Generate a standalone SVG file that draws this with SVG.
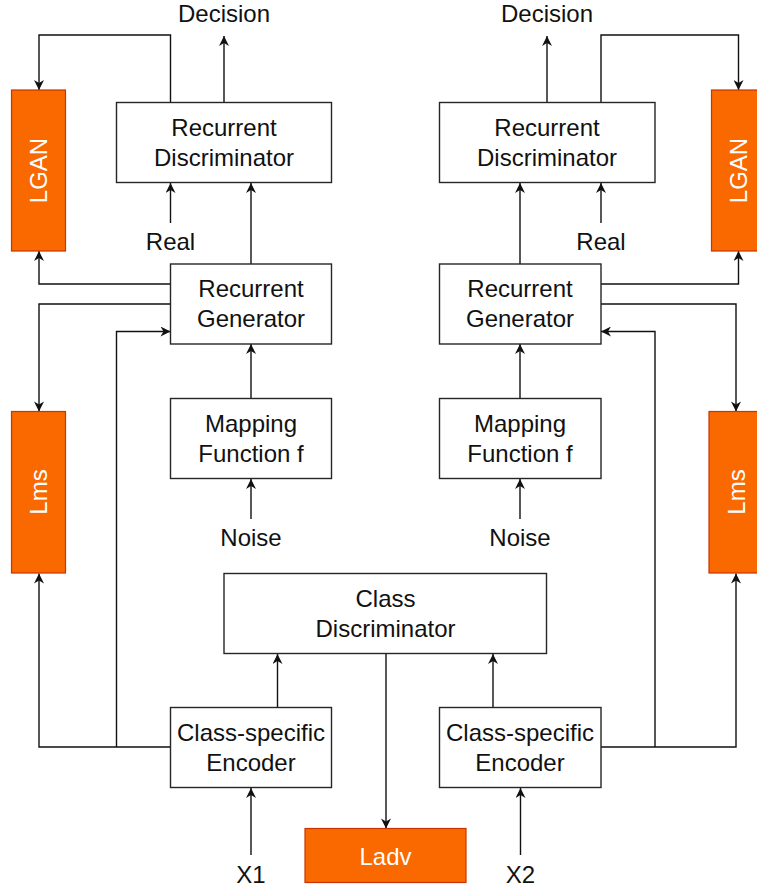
<svg xmlns="http://www.w3.org/2000/svg" width="757" height="890" viewBox="0 0 757 890">
  <style>
    .box { fill: #ffffff; stroke: #262626; stroke-width: 1.4; }
    .loss { fill: #fa6800; stroke: #c73500; stroke-width: 1.2; }
    .lbl { font-family: "Liberation Sans", Arial, sans-serif; font-size: 24px; fill: #111111; text-anchor: middle; }
    .wlbl { font-family: "Liberation Sans", Arial, sans-serif; font-size: 24px; fill: #ffffff; text-anchor: middle; }
    .edge { fill: none; stroke: #111111; stroke-width: 1.4; marker-end: url(#arr); }
  </style>
  <defs>
    <marker id="arr" viewBox="0 0 10 10" refX="10" refY="5" markerWidth="11" markerHeight="10" markerUnits="userSpaceOnUse" orient="auto">
      <path d="M0,0 L10,5 L0,10 L3,5 Z" fill="#111111"/>
    </marker>
  </defs>
  <rect width="757" height="890" fill="#ffffff"/>

  <!-- connectors -->
  <g id="connectors">
    <path class="edge" d="M170.5,102 V35 H39 V90"/>
    <path class="edge" d="M224,102 V36"/>
    <path class="edge" d="M170.5,223 V183"/>
    <path class="edge" d="M251,264 V183"/>
    <path class="edge" d="M170.5,284 H39 V251"/>
    <path class="edge" d="M170.5,304 H39 V411.5"/>
    <path class="edge" d="M170.5,747 H39 V573.5"/>
    <path class="edge" d="M116.5,747 V331.5 H170.5"/>
    <path class="edge" d="M251,398.5 V344"/>
    <path class="edge" d="M251,519 V479"/>
    <path class="edge" d="M277.5,707.5 V654"/>
    <path class="edge" d="M251,855 V788"/>
    <path class="edge" d="M386,654 V828.5"/>

    <path class="edge" d="M601,102 V35 H738.5 V90"/>
    <path class="edge" d="M547,102 V36"/>
    <path class="edge" d="M601,223 V183"/>
    <path class="edge" d="M520,264 V183"/>
    <path class="edge" d="M601,284 H738.5 V251"/>
    <path class="edge" d="M601,304 H736 V411.5"/>
    <path class="edge" d="M601,747 H736 V573.5"/>
    <path class="edge" d="M655,747 V331.5 H601"/>
    <path class="edge" d="M520,398.5 V344"/>
    <path class="edge" d="M520,519 V479"/>
    <path class="edge" d="M493,707.5 V654"/>
    <path class="edge" d="M520.5,855 V788"/>
  </g>

  <!-- free labels -->
  <g id="labels">
    <text class="lbl" x="224" y="22">Decision</text>
    <text class="lbl" x="547" y="22">Decision</text>
    <text class="lbl" x="170.5" y="250">Real</text>
    <text class="lbl" x="601" y="250">Real</text>
    <text class="lbl" x="251" y="546">Noise</text>
    <text class="lbl" x="520" y="546">Noise</text>
    <text class="lbl" x="251" y="883">X1</text>
    <text class="lbl" x="520.5" y="883">X2</text>
  </g>

  <!-- left branch -->
  <g id="lgan-left">
    <rect class="loss" x="11.5" y="90" width="54" height="161"/>
    <text class="wlbl" transform="translate(47,170.5) rotate(-90)">LGAN</text>
  </g>
  <g id="lms-left">
    <rect class="loss" x="11.5" y="411.5" width="54" height="161.5"/>
    <text class="wlbl" transform="translate(47,492) rotate(-90)">Lms</text>
  </g>
  <g id="rdisc-left">
    <rect class="box" x="116.5" y="102.5" width="215" height="80"/>
    <text class="lbl" x="224" y="135.5">Recurrent</text>
    <text class="lbl" x="224" y="165.5">Discriminator</text>
  </g>
  <g id="rgen-left">
    <rect class="box" x="170.5" y="264" width="161" height="80"/>
    <text class="lbl" x="251" y="297">Recurrent</text>
    <text class="lbl" x="251" y="327">Generator</text>
  </g>
  <g id="map-left">
    <rect class="box" x="170.5" y="398.5" width="161" height="80"/>
    <text class="lbl" x="251" y="431.5">Mapping</text>
    <text class="lbl" x="251" y="461.5">Function f</text>
  </g>
  <g id="enc-left">
    <rect class="box" x="170.5" y="707.5" width="161" height="80"/>
    <text class="lbl" x="251" y="740.5">Class-specific</text>
    <text class="lbl" x="251" y="770.5">Encoder</text>
  </g>

  <!-- shared -->
  <g id="class-disc">
    <rect class="box" x="224" y="573.5" width="322.5" height="80"/>
    <text class="lbl" x="385.5" y="606.5">Class</text>
    <text class="lbl" x="385.5" y="636.5">Discriminator</text>
  </g>
  <g id="ladv">
    <rect class="loss" x="305" y="828.5" width="161" height="54"/>
    <text class="wlbl" x="385.5" y="865">Ladv</text>
  </g>

  <!-- right branch -->
  <g id="rdisc-right">
    <rect class="box" x="439.5" y="102.5" width="215.5" height="80"/>
    <text class="lbl" x="547" y="135.5">Recurrent</text>
    <text class="lbl" x="547" y="165.5">Discriminator</text>
  </g>
  <g id="rgen-right">
    <rect class="box" x="439.5" y="264" width="161.5" height="80"/>
    <text class="lbl" x="520" y="297">Recurrent</text>
    <text class="lbl" x="520" y="327">Generator</text>
  </g>
  <g id="map-right">
    <rect class="box" x="439.5" y="398.5" width="161.5" height="80"/>
    <text class="lbl" x="520" y="431.5">Mapping</text>
    <text class="lbl" x="520" y="461.5">Function f</text>
  </g>
  <g id="enc-right">
    <rect class="box" x="439.5" y="707.5" width="161.5" height="80"/>
    <text class="lbl" x="520" y="740.5">Class-specific</text>
    <text class="lbl" x="520" y="770.5">Encoder</text>
  </g>
  <g id="lgan-right">
    <rect class="loss" x="711.5" y="90" width="54" height="161"/>
    <text class="wlbl" transform="translate(747,170.5) rotate(-90)">LGAN</text>
  </g>
  <g id="lms-right">
    <rect class="loss" x="709" y="411.5" width="54" height="161.5"/>
    <text class="wlbl" transform="translate(744.5,492) rotate(-90)">Lms</text>
  </g>
</svg>
